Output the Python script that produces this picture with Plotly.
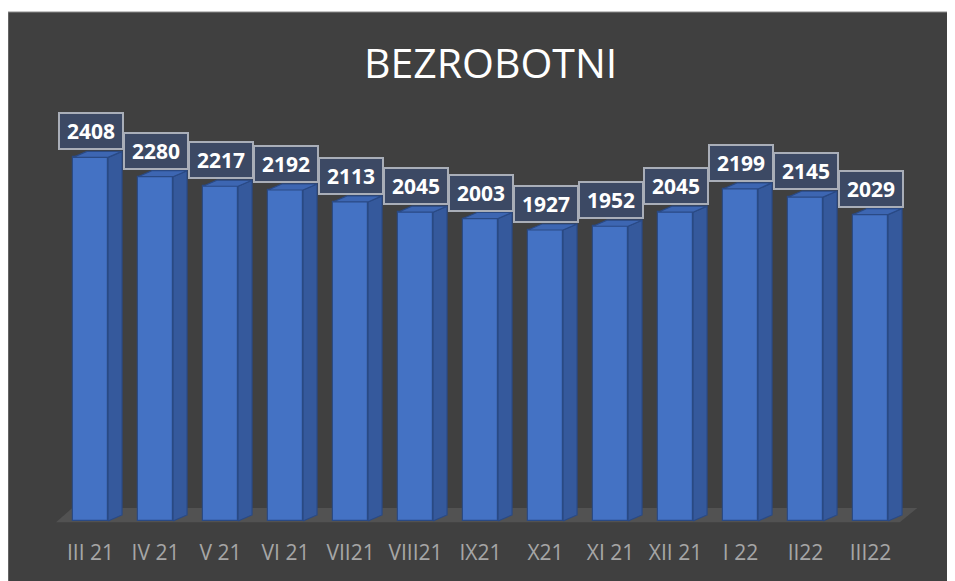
import plotly.graph_objects as go

# ---- data ----
categories = ["III 21", "IV 21", "V 21", "VI 21", "VII21", "VIII21", "IX21",
              "X21", "XI 21", "XII 21", "I 22", "II22", "III22"]
values = [2408, 2280, 2217, 2192, 2113, 2045, 2003, 1927, 1952, 2045, 2199, 2145, 2029]
title_text = "BEZROBOTNI"

# ---- geometry / style ----
W, H = 955, 581
OFF = 8               # page body margin offset
BAR_W = 0.54          # front face width (category units)
DEPTH_X = 0.215       # 3D depth offset in category units
DEPTH_Y = 40          # 3D depth offset in value units
FRONT = "#4472C4"
SIDE = "#35599C"
TOP = "#3D66B2"
EDGE = "#2A4A85"
BG = "#404040"

xs = list(range(len(categories)))
hw = BAR_W / 2

fig = go.Figure()

# floor (drawn below all traces)
fig.add_shape(type="path", xref="x", yref="y",
              path="M -0.53,-8 L 12.45,-8 L 12.72,86 L -0.28,86 Z",
              fillcolor="#525252", line=dict(width=0), layer="below")

# front faces
fig.add_trace(go.Bar(
    x=xs, y=values, width=BAR_W,
    marker=dict(color=FRONT, line=dict(color=EDGE, width=1.2)),
    hoverinfo="skip", showlegend=False))

# side and top faces
for x, v in zip(xs, values):
    fig.add_trace(go.Scatter(
        x=[x + hw, x + hw + DEPTH_X, x + hw + DEPTH_X, x + hw, x + hw],
        y=[0, DEPTH_Y, v + DEPTH_Y, v, 0],
        mode="lines", fill="toself", fillcolor=SIDE,
        line=dict(color=EDGE, width=1.2), hoverinfo="skip", showlegend=False))
    fig.add_trace(go.Scatter(
        x=[x - hw, x + hw, x + hw + DEPTH_X, x - hw + DEPTH_X, x - hw],
        y=[v, v, v + DEPTH_Y, v + DEPTH_Y, v],
        mode="lines", fill="toself", fillcolor=TOP,
        line=dict(color=EDGE, width=1.2), hoverinfo="skip", showlegend=False))

# data labels
for x, v in zip(xs, values):
    fig.add_annotation(
        x=x, y=v, xref="x", yref="y", text=f"<b>{v}</b>", showarrow=False,
        yanchor="bottom", yshift=7, width=58, height=30,
        bgcolor="rgba(60,74,102,0.95)", bordercolor="#A9AEB8",
        borderwidth=2, borderpad=2,
        font=dict(family="Open Sans", size=21, color="#FFFFFF"))

# title
fig.add_annotation(
    x=(490 - OFF) / W, y=1 - (62 - OFF) / H, xref="paper", yref="paper",
    text=title_text, showarrow=False, xanchor="center", yanchor="middle",
    font=dict(family="Open Sans", size=41, color="#FFFFFF"))

# dark panel
fig.add_shape(type="rect", xref="paper", yref="paper",
              x0=0, x1=1.01, y0=-0.01, y1=1 - (12 - OFF) / H,
              fillcolor=BG, line=dict(color="#8A8A8A", width=1), layer="below")

x0_px, x1_px = 45 - OFF, 929 - OFF
y_bot_px, y_top_px = 524 - OFF, 68 - OFF
fig.update_layout(
    width=W, height=H,
    margin=dict(l=0, r=0, t=0, b=0),
    paper_bgcolor="#FFFFFF", plot_bgcolor="rgba(0,0,0,0)",
    bargap=0,
    xaxis=dict(domain=[x0_px / W, x1_px / W], range=[-0.7, 12.9],
               tickvals=xs, ticktext=categories, showgrid=False, zeroline=False,
               showline=False, ticks="", ticklabelstandoff=14,
               tickfont=dict(family="Open Sans", size=21, color="#A6A6A6")),
    yaxis=dict(domain=[1 - y_bot_px / H, 1 - y_top_px / H], range=[-20, 3000],
               visible=False, showgrid=False, zeroline=False),
)

fig.write_html("out.html")
